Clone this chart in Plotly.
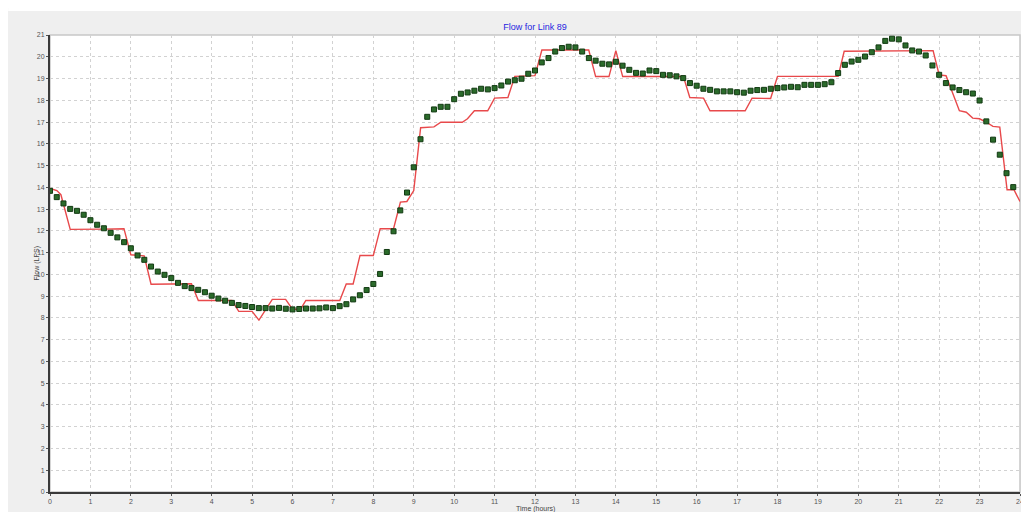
import plotly.graph_objects as go

# ---------------- data ----------------
title_text = "Flow for Link 89"
x_title = "Time (hours)"
y_title = "Flow (LPS)"

x_ticks = list(range(0, 25))
y_ticks = list(range(0, 22))

# observed flow (green squares), one reading every 10 minutes from 0:00
obs_step_minutes = 10
observed_flow = [
    13.84, 13.55, 13.26, 13.01, 12.92, 12.74, 12.49, 12.28, 12.12, 11.91,
    11.70, 11.48, 11.20, 10.87, 10.67, 10.36, 10.13, 9.98, 9.83, 9.61,
    9.46, 9.37, 9.29, 9.18, 9.02, 8.89, 8.79, 8.69, 8.59, 8.55,
    8.50, 8.45, 8.45, 8.43, 8.46, 8.42, 8.39, 8.41, 8.43, 8.43,
    8.44, 8.48, 8.45, 8.54, 8.63, 8.85, 9.04, 9.28, 9.56, 10.02,
    11.03, 11.98, 12.94, 13.76, 14.92, 16.21, 17.24, 17.58, 17.70, 17.70,
    18.05, 18.30, 18.36, 18.44, 18.53, 18.50, 18.56, 18.68, 18.86, 18.92,
    18.99, 19.22, 19.37, 19.74, 19.94, 20.24, 20.40, 20.46, 20.43, 20.24,
    19.94, 19.82, 19.68, 19.65, 19.77, 19.59, 19.40, 19.26, 19.23, 19.37,
    19.34, 19.17, 19.15, 19.10, 19.02, 18.79, 18.67, 18.53, 18.48, 18.41,
    18.41, 18.41, 18.37, 18.35, 18.44, 18.47, 18.48, 18.53, 18.56, 18.59,
    18.62, 18.60, 18.71, 18.71, 18.71, 18.74, 18.83, 19.25, 19.63, 19.78,
    19.86, 20.01, 20.21, 20.43, 20.73, 20.83, 20.80, 20.52, 20.29, 20.24,
    20.06, 19.60, 19.17, 18.79, 18.59, 18.47, 18.37, 18.31, 17.99, 17.03,
    16.19, 15.50, 14.65, 14.01,
]

# simulated flow (red line) breakpoints
sim_time = [
    0.0, 0.17, 0.27, 0.5, 1.33, 1.83, 2.0, 2.33, 2.5, 3.5,
    3.67, 4.5, 4.67, 5.0, 5.17, 5.5, 5.83, 6.0, 6.2, 6.33,
    7.17, 7.33, 7.5, 7.67, 8.0, 8.17, 8.5, 8.67, 8.83, 9.0,
    9.17, 9.5, 9.67, 10.2, 10.33, 10.5, 10.83, 11.0, 11.33, 11.5,
    12.0, 12.17, 13.33, 13.5, 13.83, 14.0, 14.17, 15.67, 15.83, 16.17,
    16.33, 17.2, 17.37, 17.83, 18.0, 19.5, 19.65, 21.85, 22.0, 22.17,
    22.5, 22.67, 22.83, 23.0, 23.17, 23.33, 23.5, 23.68, 23.85, 24.0,
]
sim_flow = [
    13.95, 13.85, 13.66, 12.07, 12.08, 12.1, 10.9, 10.85, 9.55, 9.57,
    8.8, 8.8, 8.3, 8.3, 7.9, 8.85, 8.85, 8.4, 8.4, 8.8,
    8.8, 9.56, 9.56, 10.87, 10.87, 12.1, 12.1, 13.32, 13.35, 13.85,
    16.74, 16.78, 16.99, 16.99, 17.15, 17.52, 17.52, 18.1, 18.13, 19.1,
    19.13, 20.31, 20.31, 19.09, 19.09, 20.28, 19.09, 19.1, 18.13, 18.1,
    17.52, 17.52, 18.1, 18.08, 19.1, 19.1, 20.25, 20.28, 19.17, 19.13,
    17.52, 17.45, 17.18, 17.15, 16.99, 16.8, 16.77, 13.89, 13.89, 13.35,
]

obs_time = [i * obs_step_minutes / 60 for i in range(len(observed_flow))]

# ---------------- layout constants ----------------
# the page body has an 8px margin, so the figure starts at (8, 8)
W, H = 1021, 504
ML, MR, MT, MB = 42, 5, 27, 20
plot_w = W - ML - MR
plot_h = H - MT - MB

def px_to_paper_x(px):
    return (px - ML) / plot_w

def px_to_paper_y(py):
    return (H - MB - py) / plot_h

font_family = "Liberation Sans, Arial, sans-serif"

fig = go.Figure()

fig.add_trace(go.Scatter(
    x=sim_time, y=sim_flow, mode="lines",
    line=dict(color="#e8494b", width=1.4),
    showlegend=False, hoverinfo="skip",
))
fig.add_trace(go.Scatter(
    x=obs_time, y=observed_flow, mode="markers",
    marker=dict(symbol="square", size=5, color="#2b6b2b",
                line=dict(color="#123a12", width=1)),
    showlegend=False, hoverinfo="skip",
))

axis_common = dict(
    showgrid=True, gridcolor="#d2d2d2", griddash="dot", gridwidth=1,
    zeroline=False, showline=True, linecolor="#3a3a3a", linewidth=2,
    ticks="outside", ticklen=2, tickcolor="#555555", tickwidth=1,
    tickfont=dict(size=7, color="#555555", family=font_family),
)

fig.update_xaxes(range=[0, 24], tickvals=x_ticks, **axis_common)
fig.update_yaxes(range=[0, 21], tickvals=y_ticks, **axis_common)

shapes = [
    # light border on top/right of plot area
    dict(type="rect", xref="paper", yref="paper", x0=0, x1=1, y0=0, y1=1,
         line=dict(color="#c8c8c8", width=1.5), layer="below"),
    # thin white page strip at the very top
    dict(type="rect", xref="paper", yref="paper",
         x0=px_to_paper_x(0), x1=px_to_paper_x(W),
         y0=px_to_paper_y(3), y1=px_to_paper_y(0),
         fillcolor="white", line=dict(width=0), layer="above"),
]

annotations = [
    dict(text=y_title, xref="paper", yref="paper", x=0, y=0.5,
         xshift=-20, textangle=-90, showarrow=False,
         font=dict(size=7, color="#444444", family=font_family)),
    dict(text=x_title, xref="paper", yref="paper", x=0.5, y=0,
         yshift=-16.5, yanchor="middle", showarrow=False,
         font=dict(size=7, color="#444444", family=font_family)),
]

fig.update_layout(
    width=W, height=H,
    margin=dict(l=ML, r=MR, t=MT, b=MB, pad=0),
    paper_bgcolor="#efefef", plot_bgcolor="white",
    title=dict(text=title_text, x=0.5, xref="paper", y=1, yref="paper",
               yanchor="bottom", pad=dict(b=5),
               font=dict(size=9, color="#2525e0", family=font_family)),
    shapes=shapes, annotations=annotations,
)

fig.write_html("out.html")
